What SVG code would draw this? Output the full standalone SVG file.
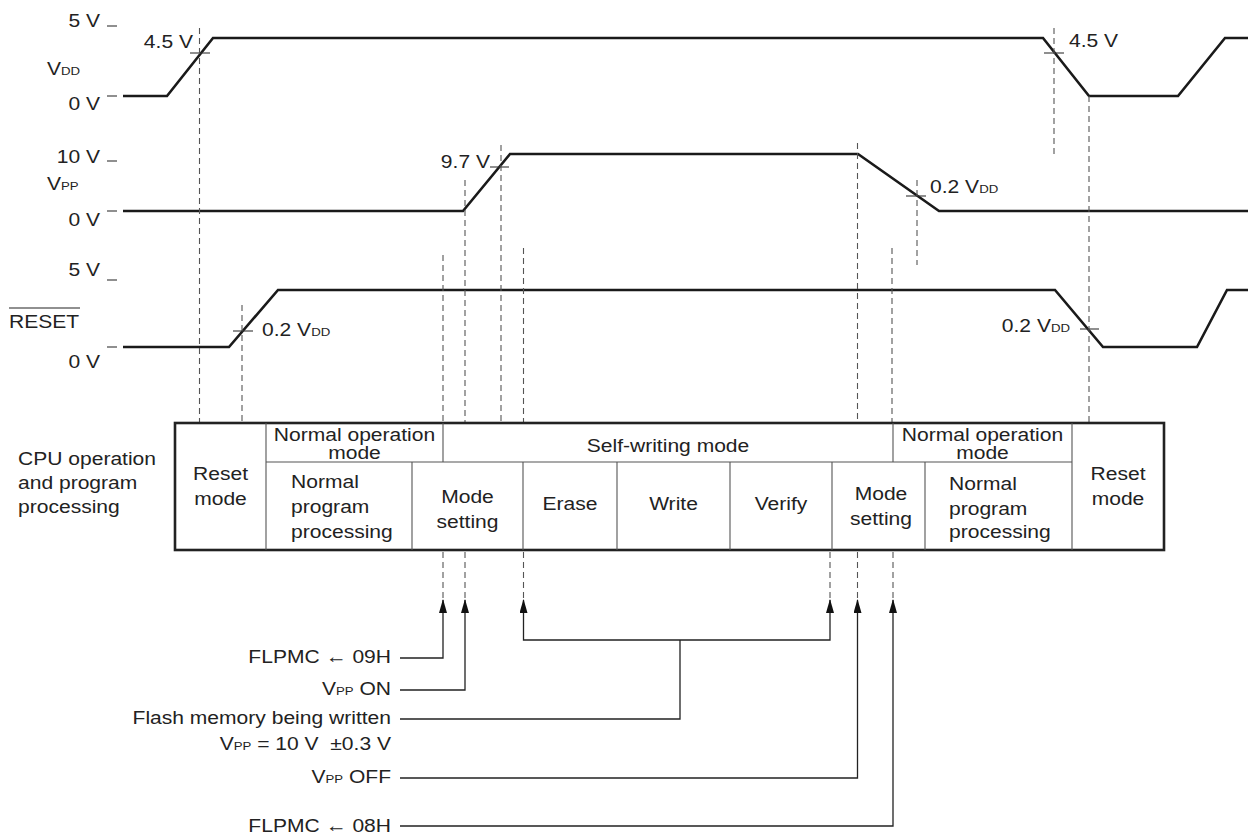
<svg xmlns="http://www.w3.org/2000/svg" width="1252" height="837" viewBox="0 0 1252 837">
<style>
text{font-family:"Liberation Sans",Arial,sans-serif;font-size:18.3px;fill:#222}
.sub{font-size:11.5px}
.wave{fill:none;stroke:#1a1a1a;stroke-width:2.6;stroke-linejoin:miter}
.dash{fill:none;stroke:#555;stroke-width:1.1;stroke-dasharray:6,4}
.tick{fill:none;stroke:#333;stroke-width:1.1}
.outer{fill:none;stroke:#222;stroke-width:2.6}
.inner{fill:none;stroke:#555;stroke-width:1.1}
.conn{fill:none;stroke:#222;stroke-width:1.3}
.m{text-anchor:middle}
.e{text-anchor:end}
</style>
<defs>
<marker id="arr" markerWidth="14" markerHeight="8" refX="13" refY="4" orient="auto" markerUnits="userSpaceOnUse" viewBox="0 0 14 8">
<path d="M0,0 L14,4 L0,8 Z" fill="#111"/>
</marker>
</defs>

<g id="vdd">
<path class="wave" d="M123,96 H167 L213,38 H1043 L1089,96 H1178 L1225,38 H1248"/>
<line class="tick" x1="107" y1="26" x2="117" y2="26"/>
<line class="tick" x1="107" y1="96" x2="117" y2="96"/>
<text class="e" transform="translate(100,27) scale(1.15,1)">5 V</text>
<text transform="translate(47,75) scale(1.15,1)">V<tspan class="sub">DD</tspan></text>
<text class="e" transform="translate(100,110) scale(1.15,1)">0 V</text>
<line class="tick" x1="190" y1="53" x2="210" y2="53"/>
<text class="e" transform="translate(193,48) scale(1.15,1)">4.5 V</text>
<line class="tick" x1="1044" y1="53" x2="1064" y2="53"/>
<text transform="translate(1069,47) scale(1.15,1)">4.5 V</text>
</g>

<g id="vpp">
<path class="wave" d="M123,211 H463 L510,154 H858 L939,211 H1248"/>
<line class="tick" x1="107" y1="161" x2="117" y2="161"/>
<line class="tick" x1="107" y1="211" x2="117" y2="211"/>
<text class="e" transform="translate(100,163) scale(1.15,1)">10 V</text>
<text transform="translate(47,190) scale(1.15,1)">V<tspan class="sub">PP</tspan></text>
<text class="e" transform="translate(100,226) scale(1.15,1)">0 V</text>
<line class="tick" x1="490" y1="167" x2="509" y2="167"/>
<text class="e" transform="translate(490,168) scale(1.15,1)">9.7 V</text>
<line class="tick" x1="906" y1="196" x2="926" y2="196"/>
<text transform="translate(930,193) scale(1.15,1)">0.2 V<tspan class="sub">DD</tspan></text>
</g>

<g id="reset">
<path class="wave" d="M123,347 H229 L278,290 H1055 L1103,347 H1197 L1227,290 H1248"/>
<line class="tick" x1="107" y1="280" x2="117" y2="280"/>
<line class="tick" x1="107" y1="347" x2="117" y2="347"/>
<text class="e" transform="translate(100,276) scale(1.15,1)">5 V</text>
<text transform="translate(9,328) scale(1.15,1)">RESET</text>
<line x1="9" y1="308" x2="80" y2="308" stroke="#222" stroke-width="1.2"/>
<text class="e" transform="translate(100,368) scale(1.15,1)">0 V</text>
<line class="tick" x1="233" y1="331" x2="253" y2="331"/>
<text transform="translate(262,336) scale(1.15,1)">0.2 V<tspan class="sub">DD</tspan></text>
<line class="tick" x1="1080" y1="329" x2="1099" y2="329"/>
<text class="e" transform="translate(1070,332) scale(1.15,1)">0.2 V<tspan class="sub">DD</tspan></text>
</g>

<g id="guides">
<line class="dash" x1="199.5" y1="28" x2="199.5" y2="423"/>
<line class="dash" x1="242" y1="305" x2="242" y2="423"/>
<line class="dash" x1="443" y1="255" x2="443" y2="423"/>
<line class="dash" x1="465" y1="180" x2="465" y2="423"/>
<line class="dash" x1="501" y1="145" x2="501" y2="423"/>
<line class="dash" x1="523.5" y1="248" x2="523.5" y2="423"/>
<line class="dash" x1="857.5" y1="143" x2="857.5" y2="423"/>
<line class="dash" x1="892" y1="248" x2="892" y2="423"/>
<line class="dash" x1="917" y1="180" x2="917" y2="265"/>
<line class="dash" x1="1054" y1="28" x2="1054" y2="158"/>
<line class="dash" x1="1089" y1="96" x2="1089" y2="423"/>
<line class="dash" x1="443" y1="552" x2="443" y2="598"/>
<line class="dash" x1="465" y1="552" x2="465" y2="598"/>
<line class="dash" x1="523.5" y1="552" x2="523.5" y2="598"/>
<line class="dash" x1="830" y1="552" x2="830" y2="598"/>
<line class="dash" x1="857.5" y1="552" x2="857.5" y2="598"/>
<line class="dash" x1="893" y1="552" x2="893" y2="598"/>
</g>

<g id="cpu-label">
<text transform="translate(18,465) scale(1.15,1)">CPU operation</text>
<text transform="translate(18,489) scale(1.15,1)">and program</text>
<text transform="translate(18,513) scale(1.15,1)">processing</text>
</g>

<g id="table">
<rect class="outer" x="175" y="423" width="989" height="127"/>
<line class="inner" x1="266" y1="462" x2="1072" y2="462"/>
<line class="inner" x1="266" y1="423" x2="266" y2="550"/>
<line class="inner" x1="443" y1="423" x2="443" y2="462"/>
<line class="inner" x1="893" y1="423" x2="893" y2="462"/>
<line class="inner" x1="1072" y1="423" x2="1072" y2="550"/>
<line class="inner" x1="412" y1="462" x2="412" y2="550"/>
<line class="inner" x1="523" y1="462" x2="523" y2="550"/>
<line class="inner" x1="617" y1="462" x2="617" y2="550"/>
<line class="inner" x1="730" y1="462" x2="730" y2="550"/>
<line class="inner" x1="832" y1="462" x2="832" y2="550"/>
<line class="inner" x1="925" y1="462" x2="925" y2="550"/>
</g>

<g id="cell-reset1">
<text class="m" transform="translate(220.5,480) scale(1.15,1)">Reset</text>
<text class="m" transform="translate(220.5,505) scale(1.15,1)">mode</text>
</g>
<g id="cell-normal-op1">
<text class="m" transform="translate(354.5,441) scale(1.15,1)">Normal operation</text>
<text class="m" transform="translate(354.5,459) scale(1.15,1)">mode</text>
</g>
<g id="cell-self-writing">
<text class="m" transform="translate(668,452) scale(1.15,1)">Self-writing mode</text>
</g>
<g id="cell-normal-op2">
<text class="m" transform="translate(982.5,441) scale(1.15,1)">Normal operation</text>
<text class="m" transform="translate(982.5,459) scale(1.15,1)">mode</text>
</g>
<g id="cell-normal-prog1">
<text transform="translate(291,488) scale(1.15,1)">Normal</text>
<text transform="translate(291,513) scale(1.15,1)">program</text>
<text transform="translate(291,538) scale(1.15,1)">processing</text>
</g>
<g id="cell-mode1">
<text class="m" transform="translate(467.5,503) scale(1.15,1)">Mode</text>
<text class="m" transform="translate(467.5,528) scale(1.15,1)">setting</text>
</g>
<g id="cell-erase"><text class="m" transform="translate(570,510) scale(1.15,1)">Erase</text></g>
<g id="cell-write"><text class="m" transform="translate(673.5,510) scale(1.15,1)">Write</text></g>
<g id="cell-verify"><text class="m" transform="translate(781,510) scale(1.15,1)">Verify</text></g>
<g id="cell-mode2">
<text class="m" transform="translate(881,500) scale(1.15,1)">Mode</text>
<text class="m" transform="translate(881,525) scale(1.15,1)">setting</text>
</g>
<g id="cell-normal-prog2">
<text transform="translate(949,490) scale(1.15,1)">Normal</text>
<text transform="translate(949,515) scale(1.15,1)">program</text>
<text transform="translate(949,538) scale(1.15,1)">processing</text>
</g>
<g id="cell-reset2">
<text class="m" transform="translate(1118,480) scale(1.15,1)">Reset</text>
<text class="m" transform="translate(1118,505) scale(1.15,1)">mode</text>
</g>

<g id="labels">
<text class="e" transform="translate(391,663) scale(1.15,1)">FLPMC ← 09H</text>
<text class="e" transform="translate(391,695) scale(1.15,1)">V<tspan class="sub">PP</tspan> ON</text>
<text class="e" transform="translate(391,724) scale(1.15,1)">Flash memory being written</text>
<text class="e" transform="translate(391,750) scale(1.15,1)">V<tspan class="sub">PP</tspan> = 10 V &#160;±0.3 V</text>
<text class="e" transform="translate(391,783) scale(1.15,1)">V<tspan class="sub">PP</tspan> OFF</text>
<text class="e" transform="translate(391,832) scale(1.15,1)">FLPMC ← 08H</text>
</g>

<g id="connectors">
<path class="conn" d="M400,658 H443 V600" marker-end="url(#arr)"/>
<path class="conn" d="M400,690 H465 V600" marker-end="url(#arr)"/>
<path class="conn" d="M680,640 H523.5 V600" marker-end="url(#arr)"/>
<path class="conn" d="M680,640 H830 V600" marker-end="url(#arr)"/>
<path class="conn" d="M400,719 H680 V640"/>
<path class="conn" d="M400,778 H857.5 V600" marker-end="url(#arr)"/>
<path class="conn" d="M400,826 H893 V600" marker-end="url(#arr)"/>
</g>
</svg>
